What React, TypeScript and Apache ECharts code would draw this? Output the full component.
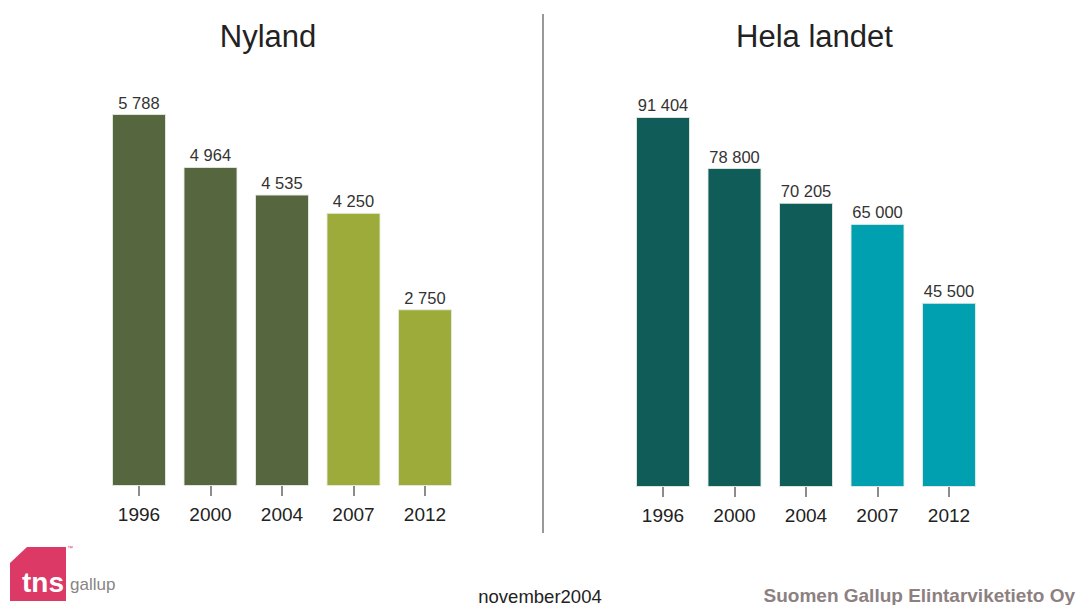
import React, { useEffect, useRef } from "react";
import * as echarts from "echarts";

const years = ["1996", "2000", "2004", "2007", "2012"];
const nylandValues = [5788, 4964, 4535, 4250, 2750];
const helaValues = [91404, 78800, 70205, 65000, 45500];
const nylandColors = ["#56663f", "#56663f", "#56663f", "#9dab3b", "#9dab3b"];
const helaColors = ["#0f5c59", "#0f5c59", "#0f5c59", "#00a0b1", "#00a0b1"];
const titles = ["Nyland", "Hela landet"];
const footerDate = "november2004";
const footerCompany = "Suomen Gallup Elintarviketieto Oy";

const FONT = "'Liberation Sans', Arial, Helvetica, sans-serif";

const fmt = (v: number) => String(v).replace(/\B(?=(\d{3})+(?!\d))/g, " ");

export default function App() {
  const ref = useRef<HTMLDivElement>(null);
  useEffect(() => {
    if (!ref.current) return;
    const chart = echarts.init(ref.current, undefined, { renderer: "svg" });
    const xAxisBase = (gridIndex: number) => ({
      type: "category" as const,
      gridIndex,
      data: years,
      axisLine: { show: false },
      axisTick: { show: true, alignWithLabel: true, length: 10, lineStyle: { color: "#666", width: 1.5 } },
      axisLabel: { color: "#222", fontSize: 19, fontFamily: FONT, margin: 19 },
    });
    const yAxisBase = (gridIndex: number, max: number) => ({
      type: "value" as const,
      gridIndex,
      min: 0,
      max,
      show: false,
      splitLine: { show: false },
    });
    const mkSeries = (idx: number, values: number[], colors: string[]) => ({
      type: "bar" as const,
      xAxisIndex: idx,
      yAxisIndex: idx,
      barWidth: 54,
      data: values.map((v, i) => ({
        value: v,
        itemStyle: { color: colors[i], borderColor: "rgba(230,235,225,0.9)", borderWidth: 1 },
      })),
      label: {
        show: true,
        position: "top" as const,
        distance: 3,
        color: "#333",
        fontSize: 16.5,
        fontFamily: FONT,
        formatter: (p: any) => fmt(p.value),
      },
    });
    const titleStyle = { fontSize: 31, fill: "#222", fontFamily: FONT, textAlign: "center", textVerticalAlign: "middle" };
    chart.setOption({
      animation: false,
      backgroundColor: "#ffffff",
      grid: [
        { left: 103.25, width: 357.5, top: 100.4, height: 385.6 },
        { left: 627.25, width: 357.5, top: 82.2, height: 404.8 },
      ],
      xAxis: [xAxisBase(0), xAxisBase(1)],
      yAxis: [yAxisBase(0, 6000), yAxisBase(1, 100000)],
      series: [mkSeries(0, nylandValues, nylandColors), mkSeries(1, helaValues, helaColors)],
      graphic: [
        { type: "text", x: 268, y: 36, style: { ...titleStyle, text: titles[0] } },
        { type: "text", x: 814.5, y: 36, style: { ...titleStyle, text: titles[1] } },
        { type: "line", shape: { x1: 543, y1: 14, x2: 543, y2: 533 }, style: { stroke: "#555", lineWidth: 1.2 } },
        {
          type: "text",
          x: 540,
          y: 596,
          style: { text: footerDate, fill: "#222", fontSize: 18.5, fontFamily: FONT, textAlign: "center", textVerticalAlign: "middle" },
        },
        {
          type: "text",
          x: 1075,
          y: 595,
          style: { text: footerCompany, fill: "#8c8080", fontSize: 19, fontWeight: "bold", fontFamily: FONT, textAlign: "right", textVerticalAlign: "middle" },
        },
        {
          type: "polygon",
          shape: { points: [[10, 563], [27, 547], [66, 547], [66, 601], [10, 601]] },
          style: { fill: "#dc3966" },
        },
        {
          type: "text",
          x: 22,
          y: 582,
          style: { text: "tns", fill: "#ffffff", fontSize: 28, fontWeight: "bold", fontFamily: FONT, textVerticalAlign: "middle" },
        },
        {
          type: "text",
          x: 70,
          y: 584,
          style: { text: "gallup", fill: "#8a8584", fontSize: 17, fontFamily: "'Liberation Sans Narrow', " + FONT, textVerticalAlign: "middle" },
        },
        {
          type: "text",
          x: 67,
          y: 548,
          style: { text: "™", fill: "#dc3966", fontSize: 6, fontFamily: FONT, textVerticalAlign: "middle" },
        },
      ],
    });
    return () => chart.dispose();
  }, []);
  return <div ref={ref} style={{ position: "fixed", left: 0, top: 0, width: 1077, height: 605 }} />;
}
